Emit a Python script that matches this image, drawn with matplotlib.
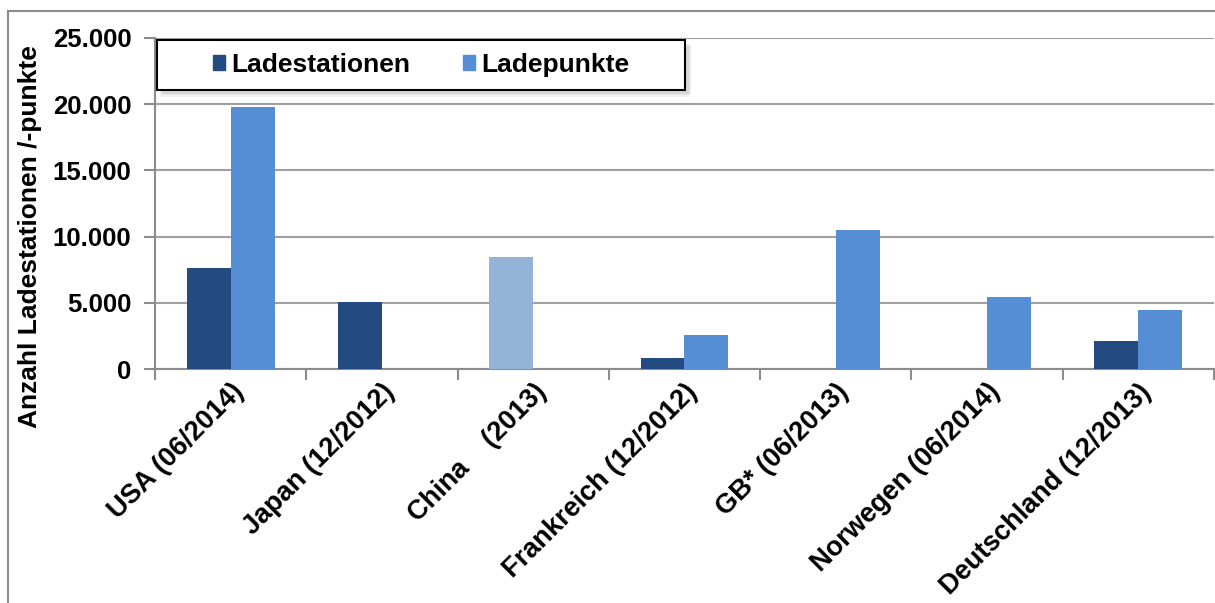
import matplotlib.pyplot as plt
import matplotlib.patches as mpatches
import numpy as np

plt.rcParams['font.family'] = ['Liberation Sans', 'DejaVu Sans']
plt.rcParams['font.weight'] = 'bold'

# data
laender = ['USA (06/2014)', 'Japan (12/2012)', 'China    (2013)', 'Frankreich (12/2012)',
           'GB* (06/2013)', 'Norwegen (06/2014)', 'Deutschland (12/2013)']
ladestationen = [7600, 5100, 8450, 800, 0, 0, 2100]
ladepunkte = [19800, 0, 0, 2570, 10480, 5420, 4460]

dunkel = '#234B7F'
hell = '#558ED5'
china_farbe = '#95B3D7'

fig = plt.figure(figsize=(12.15, 6.03), dpi=100)
ax = fig.add_axes([0.1276, 0.388, 0.8714, 0.549])

# outer chart border
fig.patches.append(mpatches.Rectangle((8 / 1215, -0.1), 1.2, 1 - 11 / 603 + 0.1,
                                      transform=fig.transFigure, fill=False,
                                      edgecolor='#8C8C8C', linewidth=1.5))

x = np.arange(len(laender))
w = 0.29
farben1 = [china_farbe if 'China' in l else dunkel for l in laender]
ax.bar(x - w / 2, ladestationen, w, color=farben1, zorder=3, label='Ladestationen')
ax.bar(x + w / 2, ladepunkte, w, color=hell, zorder=3, label='Ladepunkte')

ax.set_xlim(-0.5, len(laender) - 0.5)
ax.set_ylim(0, 25000)
ax.set_yticks(np.arange(0, 25001, 5000))
ax.set_yticklabels(['0' if v == 0 else f'{v // 1000}.000' for v in range(0, 25001, 5000)])
ax.yaxis.grid(True, color='#A0A0A0', linewidth=1.5, zorder=0)
ax.set_axisbelow(True)

ax.set_xticks(x)
ax.set_xticklabels(laender, rotation=45, ha='right', rotation_mode='anchor', fontsize=19.5)
ax.set_xticks(np.arange(-0.5, len(laender)), minor=True)
ax.tick_params(axis='x', which='major', length=0, pad=7)
ax.tick_params(axis='x', which='minor', length=8, color='#8C8C8C', width=1.5)
ax.tick_params(axis='y', length=8, color='#8C8C8C', width=1.5, labelsize=18.5, pad=9)

for s in ['top', 'right']:
    ax.spines[s].set_visible(False)
for s in ['left', 'bottom']:
    ax.spines[s].set_color('#8C8C8C')
    ax.spines[s].set_linewidth(1.5)

ax.set_ylabel('Anzahl Ladestationen /-punkte', fontsize=19, fontweight='bold')
ax.yaxis.set_label_coords(-0.107, 0.4)

# legend box with soft shadow, drawn by hand
bx, by, bw, bh = 0.002, 0.843, 0.499, 0.151
for i, a in enumerate([0.12, 0.12, 0.15]):
    ax.add_patch(mpatches.Rectangle((bx + 0.003 + i * 0.001, by - 0.02 + i * 0.004), bw, bh,
                                    transform=ax.transAxes, facecolor='#909090', alpha=a,
                                    edgecolor='none', zorder=4, clip_on=False))
ax.add_patch(mpatches.Rectangle((bx, by), bw, bh, transform=ax.transAxes,
                                facecolor='white', edgecolor='black', linewidth=1.5,
                                zorder=5, clip_on=False))

h1 = mpatches.Patch(color=dunkel)
h2 = mpatches.Patch(color=hell)
leg = ax.legend([h1, h2], ['Ladestationen', 'Ladepunkte'], ncol=2, loc='center',
                bbox_to_anchor=(bx, by, bw, bh), fontsize=19, frameon=False,
                handlelength=0.45, handleheight=0.45, handletextpad=0.25,
                columnspacing=2.0, borderpad=0.3)
leg.set_zorder(6)

fig.savefig('out.png', dpi=100)
